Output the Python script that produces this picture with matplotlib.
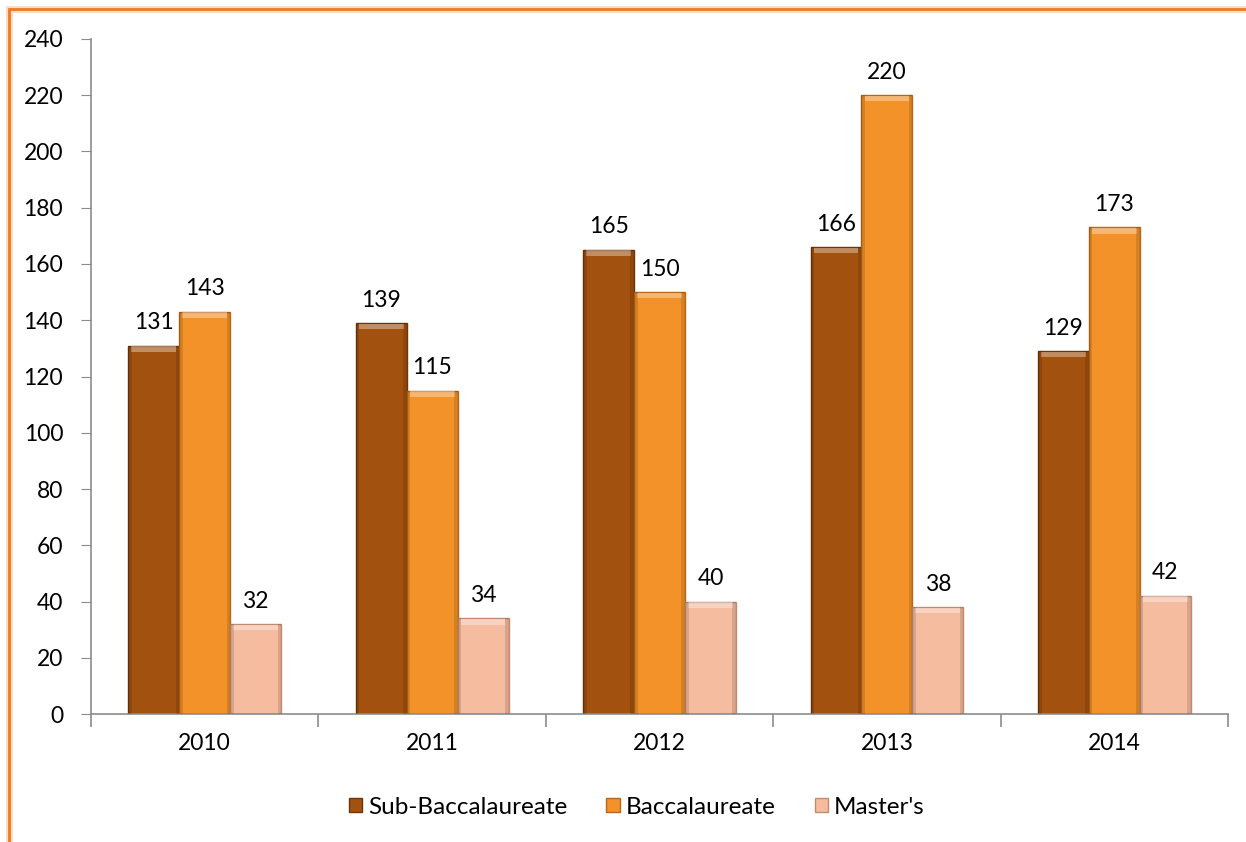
import matplotlib.pyplot as plt
import numpy as np
from matplotlib.patches import Rectangle

# chart data
years = ['2010', '2011', '2012', '2013', '2014']
sub_bacc = [131, 139, 165, 166, 129]
bacc = [143, 115, 150, 220, 173]
masters = [32, 34, 40, 38, 42]

series = [
    ('Sub-Baccalaureate', sub_bacc, '#A3510F', '#6E3508'),
    ('Baccalaureate', bacc, '#F39228', '#B8661A'),
    ("Master's", masters, '#F6BCA0', '#C48A70'),
]

plt.rcParams['font.family'] = ['Lato', 'DejaVu Sans']

fig = plt.figure(figsize=(12.46, 8.42), dpi=100)
ax = fig.add_axes([0.073, 0.152, 0.9126, 0.8017])

x = np.arange(len(years))
width = 0.224
offsets = [-width, 0, width]

for (name, vals, color, edge), off in zip(series, offsets):
    bars = ax.bar(x + off, vals, width, color=color, edgecolor=edge,
                  linewidth=1.0, label=name, zorder=2)
    # simple bevel: lighter strip on top, darker sides
    for b in bars:
        bx, bw, bh = b.get_x(), b.get_width(), b.get_height()
        ax.add_patch(Rectangle((bx + bw * 0.06, bh - 2.2), bw * 0.88, 2.0,
                               facecolor='white', alpha=0.35, linewidth=0, zorder=3))
        ax.add_patch(Rectangle((bx, 0), bw * 0.07, bh, facecolor='black',
                               alpha=0.12, linewidth=0, zorder=3))
        ax.add_patch(Rectangle((bx + bw * 0.93, 0), bw * 0.07, bh, facecolor='black',
                               alpha=0.12, linewidth=0, zorder=3))
        ax.annotate(str(int(bh)), (bx + bw / 2, bh), xytext=(0, 9),
                    textcoords='offset points', ha='center', va='bottom',
                    fontsize=16.5, color='black')

ax.set_xlim(-0.5, len(years) - 0.5)
ax.set_ylim(0, 240)
ax.set_yticks(range(0, 241, 20))
ax.set_xticks(x)
ax.set_xticklabels(years)
ax.set_xticks(np.arange(-0.5, len(years), 1), minor=True)

for s in ['top', 'right']:
    ax.spines[s].set_visible(False)
for s in ['left', 'bottom']:
    ax.spines[s].set_color('#8C8C8C')
    ax.spines[s].set_linewidth(1.2)

ax.tick_params(axis='y', length=7, color='#8C8C8C', labelsize=16.5, pad=13)
ax.tick_params(axis='x', which='major', length=0, labelsize=16.5, pad=14)
ax.tick_params(axis='x', which='minor', length=9, color='#8C8C8C', width=1.2)

leg = ax.legend(loc='upper center', bbox_to_anchor=(0.48, -0.09), ncol=3,
                frameon=False, fontsize=17.5, handlelength=0.55, handleheight=0.55,
                handletextpad=0.25, columnspacing=1.6)

# orange frame around the chart
fig.patches.append(Rectangle((9 / 1246, -0.1), 1.2, 1 - 9 / 842 + 0.1,
                             transform=fig.transFigure, fill=False,
                             edgecolor='#F5A05A', linewidth=5, alpha=0.35))
fig.patches.append(Rectangle((9 / 1246, -0.1), 1.2, 1 - 9 / 842 + 0.1,
                             transform=fig.transFigure, fill=False,
                             edgecolor='#EE7A22', linewidth=2))

fig.savefig('out.png', dpi=100)
